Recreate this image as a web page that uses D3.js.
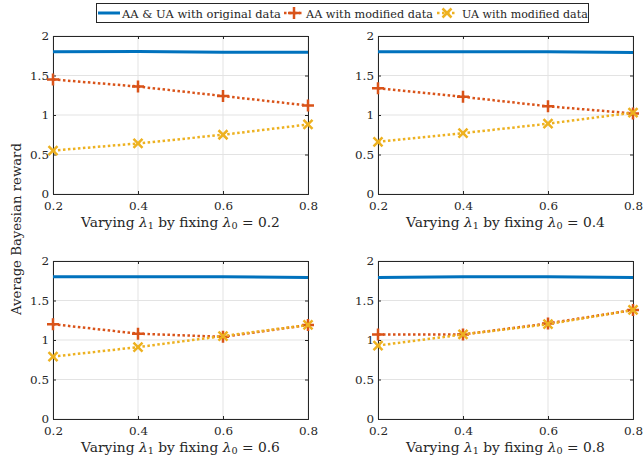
<!DOCTYPE html>
<html>
<head>
<meta charset="utf-8">
<script src="https://cdn.jsdelivr.net/npm/d3@7"></script>
<style>
  body { margin: 0; background: #fff; }
  text { font-family: "DejaVu Serif"; fill: #262626; }
</style>
</head>
<body>
<svg id="chart" width="644" height="462"></svg>
<script>
// data
var lambda1 = [0.2, 0.4, 0.6, 0.8];
var lambda0 = ["0.2", "0.4", "0.6", "0.8"];
var seriesNames = ["AA & UA with original data", "AA with modified data", "UA with modified data"];

// one row per panel (lambda0), one value per lambda1
var original = [
  [1.80, 1.805, 1.795, 1.795],
  [1.80, 1.80, 1.80, 1.79],
  [1.80, 1.80, 1.80, 1.79],
  [1.79, 1.80, 1.80, 1.79]
];
var aaModified = [
  [1.45, 1.36, 1.24, 1.12],
  [1.34, 1.23, 1.11, 1.02],
  [1.20, 1.08, 1.04, 1.19],
  [1.07, 1.07, 1.21, 1.38]
];
var uaModified = [
  [0.55, 0.64, 0.75, 0.88],
  [0.66, 0.77, 0.89, 1.03],
  [0.79, 0.91, 1.05, 1.19],
  [0.93, 1.07, 1.20, 1.38]
];

var yTicks = [0, 0.5, 1, 1.5, 2];
var xTicks = [0.2, 0.4, 0.6, 0.8];
var colors = ["#0072BD", "#D95319", "#EDB120"];

var svg = d3.select("#chart");

// shrink/grow a text so it takes the width it has in the picture
function fitWidth(sel, target) {
  var w = sel.node().getComputedTextLength();
  var fs = parseFloat(sel.style("font-size"));
  sel.style("font-size", (fs * target / w) + "px");
}

// work out tick font size from the width of "0.4"
var probe = svg.append("text").style("font-size", "12px").text("0.4");
fitWidth(probe, 19);
var tickFs = probe.style("font-size");
probe.remove();

// panel placement
var panels = [
  {left: 53, top: 36},
  {left: 378, top: 36},
  {left: 53, top: 261},
  {left: 378, top: 261}
];
var pw = 255, ph = 158;

var x = d3.scaleLinear().domain([0.2, 0.8]).range([0, pw]);
var y = d3.scaleLinear().domain([0, 2]).range([ph, 0]);

function plusPath(s) { return "M" + (-s) + ",0H" + s + "M0," + (-s) + "V" + s; }
function crossPath(s) { return "M" + (-s) + "," + (-s) + "L" + s + "," + s + "M" + (-s) + "," + s + "L" + s + "," + (-s); }

var line = d3.line()
  .x(function(d, i) { return x(lambda1[i]); })
  .y(function(d) { return y(d); });

panels.forEach(function(p, k) {
  var g = svg.append("g").attr("transform", "translate(" + p.left + "," + p.top + ")");

  // grid
  g.selectAll(".gx").data(xTicks).enter().append("line")
    .attr("x1", function(d) { return x(d); }).attr("x2", function(d) { return x(d); })
    .attr("y1", 0).attr("y2", ph)
    .style("stroke", "#e3e3e3").style("stroke-width", 1);
  g.selectAll(".gy").data(yTicks).enter().append("line")
    .attr("y1", function(d) { return y(d); }).attr("y2", function(d) { return y(d); })
    .attr("x1", 0).attr("x2", pw)
    .style("stroke", "#e3e3e3").style("stroke-width", 1);

  // axes with inward ticks on all four sides
  var axB = g.append("g").attr("transform", "translate(0," + ph + ")")
    .call(d3.axisBottom(x).tickValues(xTicks).tickSize(-3).tickPadding(8).tickFormat(d3.format(".1f")));
  var axT = g.append("g")
    .call(d3.axisTop(x).tickValues(xTicks).tickSize(-3).tickFormat(""));
  var axL = g.append("g")
    .call(d3.axisLeft(y).tickValues(yTicks).tickSize(-3).tickPadding(4).tickFormat(d3.format("")));
  var axR = g.append("g").attr("transform", "translate(" + pw + ",0)")
    .call(d3.axisRight(y).tickValues(yTicks).tickSize(-3).tickFormat(""));
  [axB, axT, axL, axR].forEach(function(a) {
    a.attr("font-family", null);
    a.select(".domain").style("stroke", "#262626").style("stroke-width", 1);
    a.selectAll(".tick line").style("stroke", "#262626");
    a.selectAll("text").style("font-family", "DejaVu Serif").style("font-size", tickFs).style("fill", "#262626");
  });

  var sets = [original[k], aaModified[k], uaModified[k]];

  // blue solid
  g.append("path").datum(sets[0]).attr("d", line)
    .style("fill", "none").style("stroke", colors[0]).style("stroke-width", 3);

  // orange dotted with +
  g.append("path").datum(sets[1]).attr("d", line)
    .style("fill", "none").style("stroke", colors[1]).style("stroke-width", 2.5)
    .style("stroke-dasharray", "2.5,2.5");
  g.selectAll(".plus").data(sets[1]).enter().append("path")
    .attr("transform", function(d, i) { return "translate(" + x(lambda1[i]) + "," + y(d) + ")"; })
    .attr("d", plusPath(6))
    .style("fill", "none").style("stroke", colors[1]).style("stroke-width", 2.5);

  // yellow dotted with x
  g.append("path").datum(sets[2]).attr("d", line)
    .style("fill", "none").style("stroke", colors[2]).style("stroke-width", 2.5)
    .style("stroke-dasharray", "2.5,2.5");
  g.selectAll(".cross").data(sets[2]).enter().append("path")
    .attr("transform", function(d, i) { return "translate(" + x(lambda1[i]) + "," + y(d) + ")"; })
    .attr("d", crossPath(4.5))
    .style("fill", "none").style("stroke", colors[2]).style("stroke-width", 2.5);

  // x label
  var t = g.append("text")
    .attr("x", pw / 2).attr("y", ph + 33)
    .attr("text-anchor", "middle")
    .style("font-size", "14px");
  t.append("tspan").text("Varying ");
  t.append("tspan").style("font-style", "italic").text("λ");
  t.append("tspan").attr("dy", "0.22em").style("font-size", "0.7em").text("1");
  t.append("tspan").attr("dy", "-0.154em").text(" by fixing ");
  t.append("tspan").style("font-style", "italic").text("λ");
  t.append("tspan").attr("dy", "0.22em").style("font-size", "0.7em").text("0");
  t.append("tspan").attr("dy", "-0.154em").text(" = " + lambda0[k]);
  fitWidth(t, 199);
});

// y label
var yl = svg.append("text")
  .attr("transform", "translate(21,229) rotate(-90)")
  .attr("text-anchor", "middle")
  .style("font-size", "13px")
  .text("Average Bayesian reward");
fitWidth(yl, 172);

// legend
var lg = svg.append("g");
lg.append("rect").attr("x", 96.5).attr("y", 3.5).attr("width", 492).attr("height", 19)
  .style("fill", "#fff").style("stroke", "#262626").style("stroke-width", 1);

var legendX = [98, 284, 437];
var textX = [122, 306, 462];
var textW = [159, 127, 126];
seriesNames.forEach(function(name, i) {
  var cy = 13;
  var seg = lg.append("line").attr("x1", legendX[i]).attr("x2", legendX[i] + (i === 0 ? 22 : 19))
    .attr("y1", cy).attr("y2", cy)
    .style("stroke", colors[i]).style("stroke-width", i === 0 ? 3 : 2.5);
  if (i > 0) {
    seg.style("stroke-dasharray", "2.5,2.5");
    lg.append("path").attr("transform", "translate(" + (legendX[i] + 10) + "," + cy + ")")
      .attr("d", i === 1 ? plusPath(6) : crossPath(4.5))
      .style("fill", "none").style("stroke", colors[i]).style("stroke-width", 2.5);
  }
  var lt = lg.append("text").attr("x", textX[i]).attr("y", cy + 4.5)
    .style("font-size", "12px").text(name);
  fitWidth(lt, textW[i]);
});
</script>
</body>
</html>
